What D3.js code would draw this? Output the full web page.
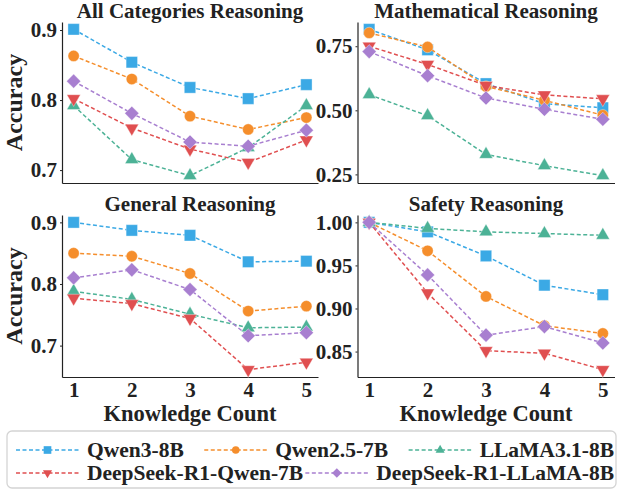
<!DOCTYPE html>
<html>
<head>
<meta charset="utf-8">
<script src="https://cdn.jsdelivr.net/npm/d3@7"></script>
<style>
  body { margin: 0; background: #fff; }
  svg text { font-family: "Liberation Serif", "Times New Roman", serif; font-weight: bold; }
</style>
</head>
<body>
<div id="chart"></div>
<script>
// x values and series names
const knowledgeCounts = [1, 2, 3, 4, 5];
const modelNames = ["Qwen3-8B", "Qwen2.5-7B", "LLaMA3.1-8B", "DeepSeek-R1-Qwen-7B", "DeepSeek-R1-LLaMA-8B"];

// accuracy per panel, one row per model (same order as modelNames)
const allCategoriesAcc = [
    [0.901, 0.854, 0.818, 0.802, 0.822],
    [0.863, 0.830, 0.777, 0.758, 0.775],
    [0.792, 0.715, 0.692, 0.732, 0.792],
    [0.802, 0.760, 0.730, 0.711, 0.743],
    [0.827, 0.781, 0.740, 0.734, 0.757]
];
const mathematicalAcc = [
    [0.816, 0.736, 0.604, 0.526, 0.510],
    [0.802, 0.747, 0.593, 0.539, 0.481],
    [0.561, 0.479, 0.328, 0.284, 0.245],
    [0.750, 0.679, 0.597, 0.560, 0.545],
    [0.729, 0.635, 0.548, 0.504, 0.465]
];
const generalAcc = [
    [0.900, 0.887, 0.879, 0.836, 0.837],
    [0.850, 0.845, 0.817, 0.756, 0.764],
    [0.788, 0.775, 0.751, 0.729, 0.730],
    [0.777, 0.768, 0.744, 0.661, 0.673],
    [0.810, 0.823, 0.791, 0.716, 0.721]
];
const safetyAcc = [
    [1.000, 0.989, 0.961, 0.927, 0.916],
    [1.000, 0.967, 0.914, 0.880, 0.871],
    [1.000, 0.993, 0.989, 0.987, 0.985],
    [1.000, 0.918, 0.851, 0.848, 0.829],
    [1.000, 0.939, 0.869, 0.879, 0.860]
];

// tick labels
const allCategoriesTicks = [0.7, 0.8, 0.9];
const mathematicalTicks = [0.25, 0.50, 0.75];
const generalTicks = [0.7, 0.8, 0.9];
const safetyTicks = [0.85, 0.90, 0.95, 1.00];

const panelTitles = ["All Categories Reasoning", "Mathematical Reasoning", "General Reasoning", "Safety Reasoning"];

const colors = ["#3ba9e5", "#f58e2c", "#4cb296", "#e04f50", "#a87fd0"];
const symbols = [d3.symbolSquare, d3.symbolCircle, d3.symbolTriangle, d3.symbolTriangle, d3.symbolSquare];
const symbolSizes = [130, 100, 80, 80, 100];
const symbolRotate = [0, 0, 0, 180, 45];

const width = 618, height = 493;
const ink = "#222";
const serif = "'Liberation Serif', 'Times New Roman', serif";

const svg = d3.select("#chart").append("svg")
    .attr("width", width)
    .attr("height", height);

const panels = [
    { title: panelTitles[0], data: allCategoriesAcc, ticks: allCategoriesTicks, fmt: ".1f", x0: 62, x1: 318, y0: 22, y1: 183, xlabels: false, ylabel: true },
    { title: panelTitles[1], data: mathematicalAcc, ticks: mathematicalTicks, fmt: ".2f", x0: 357.5, x1: 614.5, y0: 22, y1: 183, xlabels: false, ylabel: false },
    { title: panelTitles[2], data: generalAcc, ticks: generalTicks, fmt: ".1f", x0: 62, x1: 318, y0: 215, y1: 377, xlabels: true, ylabel: true },
    { title: panelTitles[3], data: safetyAcc, ticks: safetyTicks, fmt: ".2f", x0: 357.5, x1: 614.5, y0: 215, y1: 377, xlabels: true, ylabel: false }
];

panels.forEach(p => {
    const x = d3.scaleLinear()
                .domain([0.8, 5.2])
                .range([p.x0, p.x1]);

    // matplotlib-like 5% margins around the data
    const lo = d3.min(p.data, r => d3.min(r));
    const hi = d3.max(p.data, r => d3.max(r));
    const pad = (hi - lo) * 0.05;
    const y = d3.scaleLinear()
                .domain([lo - pad, hi + pad])
                .range([p.y1, p.y0]);

    const g = svg.append("g");

    const xAxis = g.append("g")
                   .attr("transform", `translate(0,${p.y1})`)
                   .call(d3.axisBottom(x)
                           .tickValues(knowledgeCounts)
                           .tickSize(0)
                           .tickSizeOuter(0)
                           .tickPadding(5)
                           .tickFormat(p.xlabels ? d3.format("d") : ""))
                   .attr("font-family", serif)
                   .attr("font-size", 21)
                   .attr("font-weight", "bold");
    xAxis.select(".domain").attr("stroke", ink).attr("stroke-width", 1.2);
    xAxis.selectAll("text")
         .style("font-size", "21px")
         .style("font-family", serif)
         .style("font-weight", "bold")
         .attr("fill", ink);

    const yAxis = g.append("g")
                   .attr("transform", `translate(${p.x0},0)`)
                   .call(d3.axisLeft(y)
                           .tickValues(p.ticks)
                           .tickSize(2)
                           .tickSizeOuter(0)
                           .tickPadding(3)
                           .tickFormat(d3.format(p.fmt)))
                   .attr("font-family", serif)
                   .attr("font-size", 21)
                   .attr("font-weight", "bold");
    yAxis.select(".domain").attr("stroke", ink).attr("stroke-width", 1.2);
    yAxis.selectAll(".tick line").attr("stroke", ink);
    yAxis.selectAll("text")
         .style("font-size", "21px")
         .style("font-family", serif)
         .style("font-weight", "bold")
         .attr("fill", ink);

    g.append("text")
     .attr("x", (p.x0 + p.x1) / 2)
     .attr("y", p.y0 - 4)
     .attr("text-anchor", "middle")
     .style("font-size", "21px")
     .attr("fill", ink)
     .text(p.title);

    if (p.ylabel) {
        g.append("text")
         .attr("transform", `translate(22,${(p.y0 + p.y1) / 2}) rotate(-90)`)
         .attr("text-anchor", "middle")
         .style("font-size", "24px")
         .attr("fill", ink)
         .text("Accuracy");
    }
    if (p.xlabels) {
        g.append("text")
         .attr("x", (p.x0 + p.x1) / 2)
         .attr("y", 421)
         .attr("text-anchor", "middle")
         .style("font-size", "22.5px")
         .attr("fill", ink)
         .text("Knowledge Count");
    }

    const line = d3.line()
                   .x((d, i) => x(knowledgeCounts[i]))
                   .y(d => y(d));

    p.data.forEach((series, m) => {
        const s = g.append("g");
        s.append("path")
         .datum(series)
         .attr("d", line)
         .attr("fill", "none")
         .attr("stroke", colors[m])
         .attr("stroke-width", 1.5)
         .attr("stroke-dasharray", "4,2.5");

        s.selectAll("path.mk")
         .data(series)
         .enter().append("path")
         .attr("class", "mk")
         .attr("d", d3.symbol().type(symbols[m]).size(symbolSizes[m]))
         .attr("transform", (d, i) => `translate(${x(knowledgeCounts[i])},${y(d)}) rotate(${symbolRotate[m]})`)
         .attr("fill", colors[m])
         .attr("stroke", "rgba(255,255,255,0.6)")
         .attr("stroke-width", 0.6);
    });
});

// legend
const legendBox = { x: 7, y: 431, w: 609, h: 57 };
const legend = svg.append("g");
legend.append("rect")
      .attr("x", legendBox.x)
      .attr("y", legendBox.y)
      .attr("width", legendBox.w)
      .attr("height", legendBox.h)
      .attr("rx", 5)
      .attr("fill", "#fff")
      .attr("stroke", "#d4d4d4")
      .attr("stroke-width", 1.3);

const rows = [[0, 1, 2], [3, 4]];
const rowY = [450, 473];
const itemLeft = 16, itemRight = 614;
const handleLen = 63, textGap = 8;

rows.forEach((row, r) => {
    const items = row.map(m => {
        const gi = legend.append("g");
        gi.append("line")
          .attr("x1", 0).attr("x2", handleLen)
          .attr("stroke", colors[m])
          .attr("stroke-width", 1.5)
          .attr("stroke-dasharray", "4,2.5");
        gi.append("path")
          .attr("d", d3.symbol().type(symbols[m]).size(symbolSizes[m] * 0.45))
          .attr("transform", `translate(${handleLen / 2},0) rotate(${symbolRotate[m]})`)
          .attr("fill", colors[m]);
        const t = gi.append("text")
          .attr("x", handleLen + textGap)
          .attr("y", 7)
          .style("font-size", "21.5px")
          .attr("fill", ink)
          .text(modelNames[m]);
        const w = handleLen + textGap + t.node().getComputedTextLength();
        return { gi, w };
    });
    const total = d3.sum(items, d => d.w);
    const gap = items.length > 1 ? (itemRight - itemLeft - total) / (items.length - 1) : 0;
    let cx = itemLeft;
    items.forEach(it => {
        it.gi.attr("transform", `translate(${cx},${rowY[r]})`);
        cx += it.w + gap;
    });
});
</script>
</body>
</html>
